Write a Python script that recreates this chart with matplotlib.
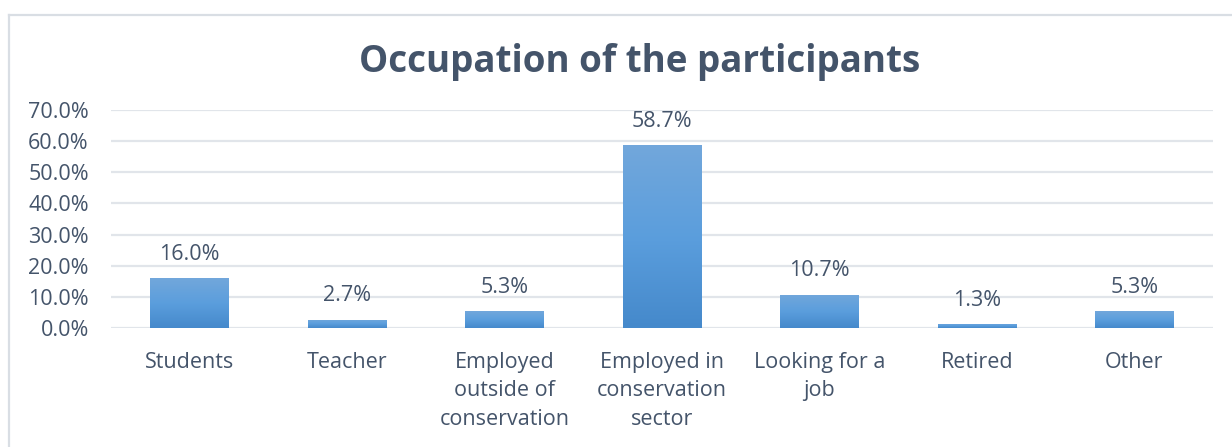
import matplotlib
matplotlib.use("Agg")
import matplotlib.pyplot as plt
import numpy as np
from matplotlib.colors import LinearSegmentedColormap
from matplotlib.ticker import FuncFormatter, MultipleLocator

categories = ["Students", "Teacher", "Employed\noutside of\nconservation",
              "Employed in\nconservation\nsector", "Looking for a\njob", "Retired", "Other"]
values = [16.0, 2.7, 5.3, 58.7, 10.7, 1.3, 5.3]
title = "Occupation of the participants"

TEXT = "#44546A"
GRID = "#E1E5EA"

plt.rcParams['font.family'] = ['Open Sans', 'DejaVu Sans']

fig = plt.figure(figsize=(12.32, 4.47), dpi=100)
# chart border (left and top visible)
fig.add_artist(plt.Line2D([8.5/1232, 8.5/1232], [0, 1 - 14.5/447], color="#D9DEE4", lw=1.6))
fig.add_artist(plt.Line2D([8.5/1232, 1], [1 - 14.5/447, 1 - 14.5/447], color="#D9DEE4", lw=1.6))

ax = fig.add_axes([111/1232, 119/447, 1102/1232, 218/447])
x = np.arange(len(categories))
bars = ax.bar(x, values, width=0.5, color="#5B9BD5", zorder=3)

cmap = LinearSegmentedColormap.from_list("g", ["#4589CB", "#5B9EDD", "#72A7DB"])
grad = np.linspace(0, 1, 256).reshape(-1, 1)
for b in bars:
    bx, by = b.get_x(), b.get_y()
    w, h = b.get_width(), b.get_height()
    im = ax.imshow(grad, cmap=cmap, origin="lower", aspect="auto",
                   extent=[bx, bx + w, by, by + h], zorder=4)
    im.set_clip_path(b)

for xi, v in zip(x, values):
    ax.annotate(f"{v:.1f}%", (xi, v), xytext=(0, 9.5), textcoords="offset points",
                ha="center", va="bottom", fontsize=15.5, color=TEXT, zorder=5)

ax.set_xlim(-0.5, len(categories) - 0.5)
ax.set_ylim(0, 70)
ax.yaxis.set_major_locator(MultipleLocator(10))
ax.yaxis.set_major_formatter(FuncFormatter(lambda v, p: f"{v:.1f}%"))
ax.set_xticks(x)
ax.set_xticklabels(categories, linespacing=1.47)
ax.tick_params(axis="both", length=0, labelsize=15.5, labelcolor=TEXT)
ax.tick_params(axis="x", pad=17)
ax.tick_params(axis="y", pad=16)
ax.grid(axis="y", color=GRID, lw=1.6, zorder=0)
ax.set_axisbelow(True)
for s in ax.spines.values():
    s.set_visible(False)
ax.set_facecolor("none")

fig.text(640/1232, 1 - 62/447, title, ha="center", va="center",
         fontsize=26.5, fontweight="bold", color=TEXT)

fig.savefig("out.png", dpi=100)
